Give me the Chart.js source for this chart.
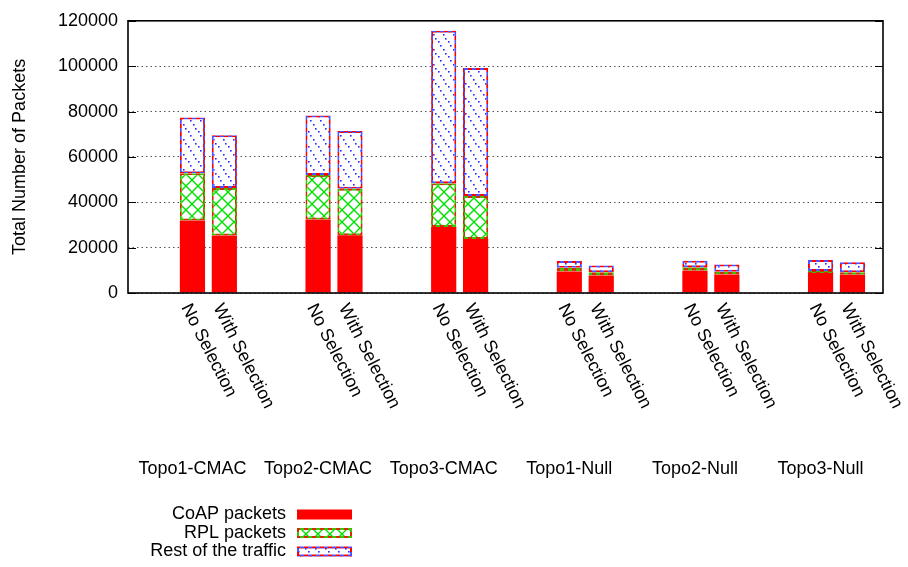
<!DOCTYPE html>
<html>
<head>
<meta charset="utf-8">
<script src="https://cdn.jsdelivr.net/npm/chart.js@4.4.1/dist/chart.umd.min.js"></script>
<style>
  html, body { margin: 0; padding: 0; background: #fff; }
  #wrap { width: 908px; height: 567px; }
</style>
</head>
<body>
<div id="wrap"><canvas id="c" width="908" height="567"></canvas></div>
<script>
// Scenario groups and the two variants drawn inside each group
const groups = ['Topo1-CMAC', 'Topo2-CMAC', 'Topo3-CMAC', 'Topo1-Null', 'Topo2-Null', 'Topo3-Null'];
const variants = ['No Selection', 'With Selection'];

// Packet counts, ordered group by group: [No Selection, With Selection, ...]
const coapPackets = [32000, 25400, 32400, 25500, 29100, 23800, 9500, 7700, 9800, 8200, 8800, 8100];
const rplPackets  = [20800, 20900, 19600, 20500, 19300, 19000, 1600, 1400, 1600, 1200, 900, 1000];
const restTraffic = [24600, 23200, 26300, 25400, 67200, 56400, 3000, 3000, 2800, 3200, 4900, 4500];

const seriesNames = ['CoAP packets', 'RPL packets', 'Rest of the traffic'];
const yTickValues = [0, 20000, 40000, 60000, 80000, 100000, 120000];

const FONT = '"Liberation Sans", Arial, Helvetica, sans-serif';
const FONT_SIZE = 18;

// ---- fill patterns -------------------------------------------------------
function makeTile(w, h, draw) {
  const cv = document.createElement('canvas');
  cv.width = w; cv.height = h;
  const g = cv.getContext('2d');
  draw(g, w, h);
  return document.getElementById('c').getContext('2d').createPattern(cv, 'repeat');
}

// green crosshatch
const rplFill = makeTile(12, 12, (g, w, h) => {
  g.fillStyle = '#fff'; g.fillRect(0, 0, w, h);
  g.strokeStyle = '#00e000'; g.lineWidth = 1.4;
  g.beginPath();
  g.moveTo(0, 0); g.lineTo(w, h);
  g.moveTo(w, 0); g.lineTo(0, h);
  g.stroke();
});

// sparse dotted blue diagonals
const restFill = makeTile(10, 15, (g, w, h) => {
  g.fillStyle = '#fff'; g.fillRect(0, 0, w, h);
  g.fillStyle = '#2a2aff';
  for (let t = 0; t < 1; t += 0.25) {
    g.fillRect(Math.round(t * w), Math.round(t * h), 1.6, 1.6);
  }
});

// two-colour dashed outlines (checkerboard so every edge reads as dashes)
function dashPattern(c1, c2) {
  return makeTile(8, 8, (g) => {
    g.fillStyle = c1; g.fillRect(0, 0, 4, 4); g.fillRect(4, 4, 4, 4);
    g.fillStyle = c2; g.fillRect(4, 0, 4, 4); g.fillRect(0, 4, 4, 4);
  });
}
const rplBorder = dashPattern('#d03000', '#40c000');
const restBorder = dashPattern('#ff0000', '#5050ff');

const fills = ['#ff0000', rplFill, restFill];
const borders = ['#ff0000', rplBorder, restBorder];

// bar positions: each group centred on its index, two bars side by side
const barOffset = [-0.127, 0.127];
function toPoints(values) {
  return values.map((v, k) => ({ x: Math.floor(k / 2) + barOffset[k % 2], y: v }));
}

const seriesValues = [coapPackets, rplPackets, restTraffic];

// ---- custom drawing: frame, inward ticks, category labels, key ----------
const decorations = {
  id: 'decorations',
  afterDraw(chart) {
    const { ctx, chartArea: a, scales: { x, y } } = chart;
    ctx.save();

    // inward tick marks on both sides
    ctx.strokeStyle = '#000';
    ctx.lineWidth = 1;
    yTickValues.forEach(v => {
      const py = Math.round(y.getPixelForValue(v)) + 0.5;
      ctx.beginPath();
      ctx.moveTo(a.left, py); ctx.lineTo(a.left + 8, py);
      ctx.moveTo(a.right - 8, py); ctx.lineTo(a.right, py);
      ctx.stroke();
    });

    // plot frame
    ctx.lineWidth = 1.6;
    ctx.strokeRect(a.left, a.top, a.right - a.left, a.bottom - a.top);

    ctx.fillStyle = '#000';
    ctx.font = FONT_SIZE + 'px ' + FONT;

    // slanted variant labels under each bar
    const angle = 63 * Math.PI / 180;
    groups.forEach((gName, gi) => {
      variants.forEach((vName, vi) => {
        const px = x.getPixelForValue(gi + barOffset[vi]);
        ctx.save();
        ctx.translate(px - 7, a.bottom + 12);
        ctx.rotate(angle);
        ctx.textAlign = 'left';
        ctx.textBaseline = 'middle';
        ctx.fillText(vName, 0, 0);
        ctx.restore();
      });
      // group name, centred under the first bar of the group
      ctx.textAlign = 'center';
      ctx.textBaseline = 'alphabetic';
      ctx.fillText(gName, x.getPixelForValue(gi + barOffset[0]), 474);
    });

    // key
    const keyTextRight = 286, swX = 297, swW = 55, swH = 10;
    seriesNames.forEach((name, i) => {
      const cy = 514.5 + i * 18.5;
      ctx.textAlign = 'right';
      ctx.textBaseline = 'middle';
      ctx.fillStyle = '#000';
      ctx.fillText(name, keyTextRight, cy);
      ctx.fillStyle = fills[i];
      ctx.fillRect(swX, cy - swH / 2, swW, swH);
      if (i > 0) {
        ctx.strokeStyle = borders[i];
        ctx.lineWidth = 2;
        ctx.strokeRect(swX + 1, cy - swH / 2 + 1, swW - 2, swH - 2);
      }
    });

    ctx.restore();
  }
};

new Chart(document.getElementById('c'), {
  type: 'bar',
  data: {
    datasets: seriesNames.map((name, i) => ({
      label: name,
      data: toPoints(seriesValues[i]),
      backgroundColor: fills[i],
      borderColor: borders[i],
      borderWidth: i === 0 ? 0 : 2,
      borderSkipped: false,
      categoryPercentage: 1,
      barPercentage: 0.79
    }))
  },
  options: {
    responsive: false,
    animation: false,
    devicePixelRatio: 1,
    layout: { padding: { left: 0, top: 15.5, right: 25, bottom: 0 } },
    plugins: { legend: { display: false }, tooltip: { enabled: false } },
    scales: {
      x: {
        type: 'linear',
        stacked: true,
        offset: false,
        min: -0.64,
        max: 5.37,
        grid: { display: false },
        border: { display: false },
        ticks: { display: false },
        afterFit(scale) { scale.height = 274; }
      },
      y: {
        stacked: true,
        min: 0,
        max: 120000,
        afterBuildTicks(scale) { scale.ticks = yTickValues.map(v => ({ value: v })); },
        ticks: {
          padding: 10,
          color: '#000',
          font: { family: FONT, size: FONT_SIZE },
          callback: v => String(v)
        },
        grid: { drawTicks: false, color: '#555', lineWidth: 1 },
        border: { display: false, dash: [1.5, 3] },
        title: {
          display: true,
          text: 'Total Number of Packets',
          color: '#000',
          font: { family: FONT, size: FONT_SIZE },
          padding: { top: 9, bottom: 0 }
        },
        afterFit(scale) { scale.width = 128; }
      }
    }
  },
  plugins: [decorations]
});
</script>
</body>
</html>
